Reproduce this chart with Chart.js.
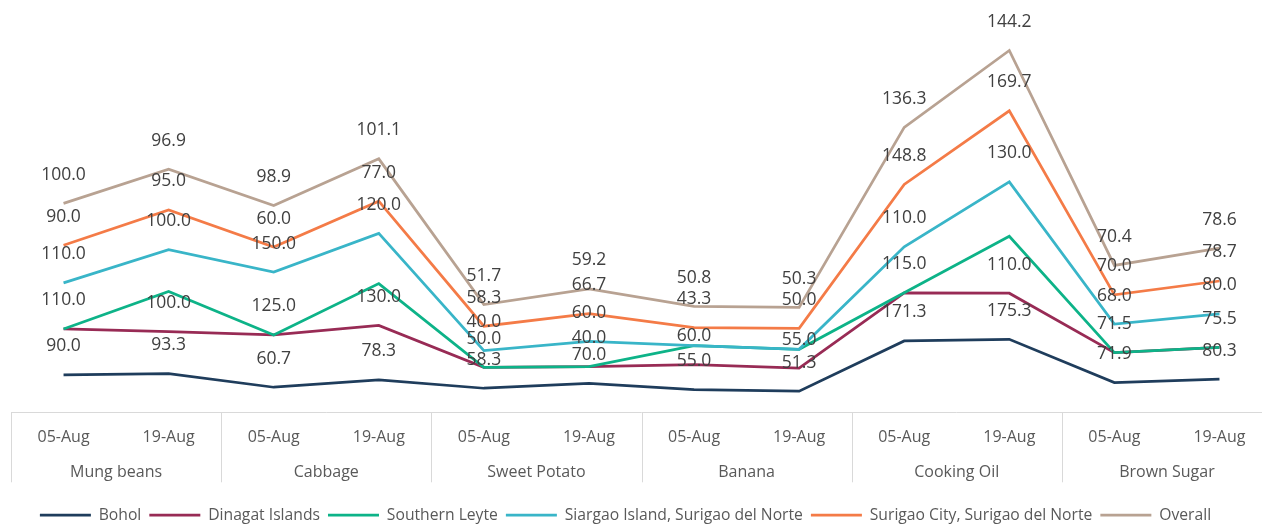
<!DOCTYPE html>
<html>
<head>
<meta charset="utf-8">
<script src="https://cdn.jsdelivr.net/npm/chart.js@4.4.1/dist/chart.umd.min.js"></script>
<style>
  html, body { margin: 0; padding: 0; background: #ffffff; overflow: hidden; width: 1262px; height: 525px; }
  #wrap { position: absolute; left: -21px; top: 0; width: 1293px; height: 533px; }
</style>
</head>
<body>
<div id="wrap"><canvas id="chart" width="1293" height="533"></canvas></div>
<script>
// Price index by commodity and survey date (null = no price reported)
const dates = ['05-Aug', '19-Aug', '05-Aug', '19-Aug', '05-Aug', '19-Aug',
               '05-Aug', '19-Aug', '05-Aug', '19-Aug', '05-Aug', '19-Aug'];
const products = ['Mung beans', 'Cabbage', 'Sweet Potato', 'Banana', 'Cooking Oil', 'Brown Sugar'];

const bohol         = [90.0, 93.3, 60.7, 78.3, 58.3, 70.0, 55.0, 51.3, 171.3, 175.3, 71.9, 80.3];
const dinagat       = [110.0, 100.0, 125.0, 130.0, 50.0, 40.0, 60.0, 55.0, 115.0, 110.0, 71.5, 75.5];
const southernLeyte = [null, 96.2, null, 100.0, null, null, 45.0, 45.0, null, 136.0, null, null];
const siargao       = [110.0, 100.0, 150.0, 120.0, 40.0, 60.0, null, null, 110.0, 130.0, 68.0, 80.0];
const surigaoCity   = [90.0, 95.0, 60.0, 77.0, 58.3, 66.7, 43.3, 50.0, 148.8, 169.7, 70.0, 78.7];
const overall       = [100.0, 96.9, 98.9, 101.1, 51.7, 59.2, 50.8, 50.3, 136.3, 144.2, 70.4, 78.6];

const series = [
  { name: 'Bohol',                             values: bohol,         color: '#1f3d5c', labels: true },
  { name: 'Dinagat Islands',                   values: dinagat,       color: '#982b55', labels: true },
  { name: 'Southern Leyte',                    values: southernLeyte, color: '#0db388', labels: false },
  { name: 'Siargao Island, Surigao del Norte', values: siargao,       color: '#39b5c8', labels: true },
  { name: 'Surigao City, Surigao del Norte',   values: surigaoCity,   color: '#f47b47', labels: true },
  { name: 'Overall',                           values: overall,       color: '#b8a292', labels: true }
];

const FONT = "'Open Sans', 'Noto Sans', sans-serif";

// Draw series first-to-last so later series sit on top where lines coincide
const drawOrderPlugin = {
  id: 'drawOrder',
  beforeDatasetsDraw(chart) {
    const metas = chart.getSortedVisibleDatasetMetas();
    for (const m of metas) m.controller.draw();
    return false;
  }
};

// Category frame: axis line plus separators between commodity groups
const framePlugin = {
  id: 'catFrame',
  afterDraw(chart) {
    const { ctx, chartArea } = chart;
    const x = chart.scales.x;
    const x2 = chart.scales.x2;
    const step = x.getPixelForValue(1) - x.getPixelForValue(0);
    const top = Math.round(chartArea.bottom) - 0.5;
    const bottom = x2.bottom - 17;
    ctx.save();
    ctx.strokeStyle = '#d9d9d9';
    ctx.lineWidth = 1;
    ctx.beginPath();
    ctx.moveTo(chartArea.left, top);
    ctx.lineTo(chartArea.right, top);
    for (let i = 0; i <= dates.length; i += 2) {
      const px = Math.round(x.getPixelForValue(i) - step / 2) + 0.5;
      ctx.moveTo(px, top);
      ctx.lineTo(px, bottom);
    }
    ctx.stroke();
    ctx.restore();
  }
};

// Value labels above each point
const valueLabelPlugin = {
  id: 'valueLabels',
  afterDraw(chart) {
    const { ctx } = chart;
    ctx.save();
    ctx.font = `17.5px ${FONT}`;
    ctx.fillStyle = '#404040';
    ctx.textAlign = 'center';
    ctx.textBaseline = 'middle';
    series.forEach((s, di) => {
      if (!s.labels) return;
      const meta = chart.getDatasetMeta(di);
      s.values.forEach((v, i) => {
        if (v === null) return;
        const pt = meta.data[i];
        ctx.fillText(v.toFixed(1), pt.x, pt.y - 28.5);
      });
    });
    ctx.restore();
  }
};

new Chart(document.getElementById('chart'), {
  type: 'line',
  data: {
    labels: dates,
    datasets: series.map(s => ({
      label: s.name,
      data: s.values.map(v => (v === null ? 0 : v)),
      borderColor: s.color,
      backgroundColor: s.color,
      borderWidth: 2.75,
      pointRadius: 0,
      pointHoverRadius: 0,
      fill: false,
      tension: 0
    }))
  },
  options: {
    responsive: false,
    animation: false,
    events: [],
    devicePixelRatio: 1,
    layout: { padding: { top: 15, right: 0, bottom: 0, left: 0 } },
    scales: {
      x: {
        type: 'category',
        offset: true,
        weight: 0,
        grid: { display: false, drawTicks: false },
        border: { display: false },
        ticks: { color: '#595959', font: { family: FONT, size: 16 }, padding: 15, autoSkip: false, maxRotation: 0 },
        afterFit: s => { s.height = 33.4; }
      },
      x2: {
        type: 'category',
        position: 'bottom',
        labels: products,
        offset: true,
        weight: 1,
        grid: { display: false, drawTicks: false },
        border: { display: false },
        ticks: { color: '#595959', font: { family: FONT, size: 16 }, padding: 16.4, autoSkip: false, maxRotation: 0 },
        afterFit: s => { s.height = 53.25; }
      },
      y: {
        stacked: true,
        min: 0,
        max: 950,
        position: 'left',
        grid: { display: false, drawTicks: false },
        border: { display: false },
        ticks: { display: false },
        afterFit: s => { s.width = 32; }
      }
    },
    plugins: {
      tooltip: { enabled: false },
      legend: {
        position: 'bottom',
        labels: {
          usePointStyle: true,
          pointStyle: 'line',
          pointStyleWidth: 51,
          padding: 8,
          color: '#595959',
          font: { family: FONT, size: 15.7 }
        }
      }
    }
  },
  plugins: [drawOrderPlugin, framePlugin, valueLabelPlugin]
});
</script>
</body>
</html>
